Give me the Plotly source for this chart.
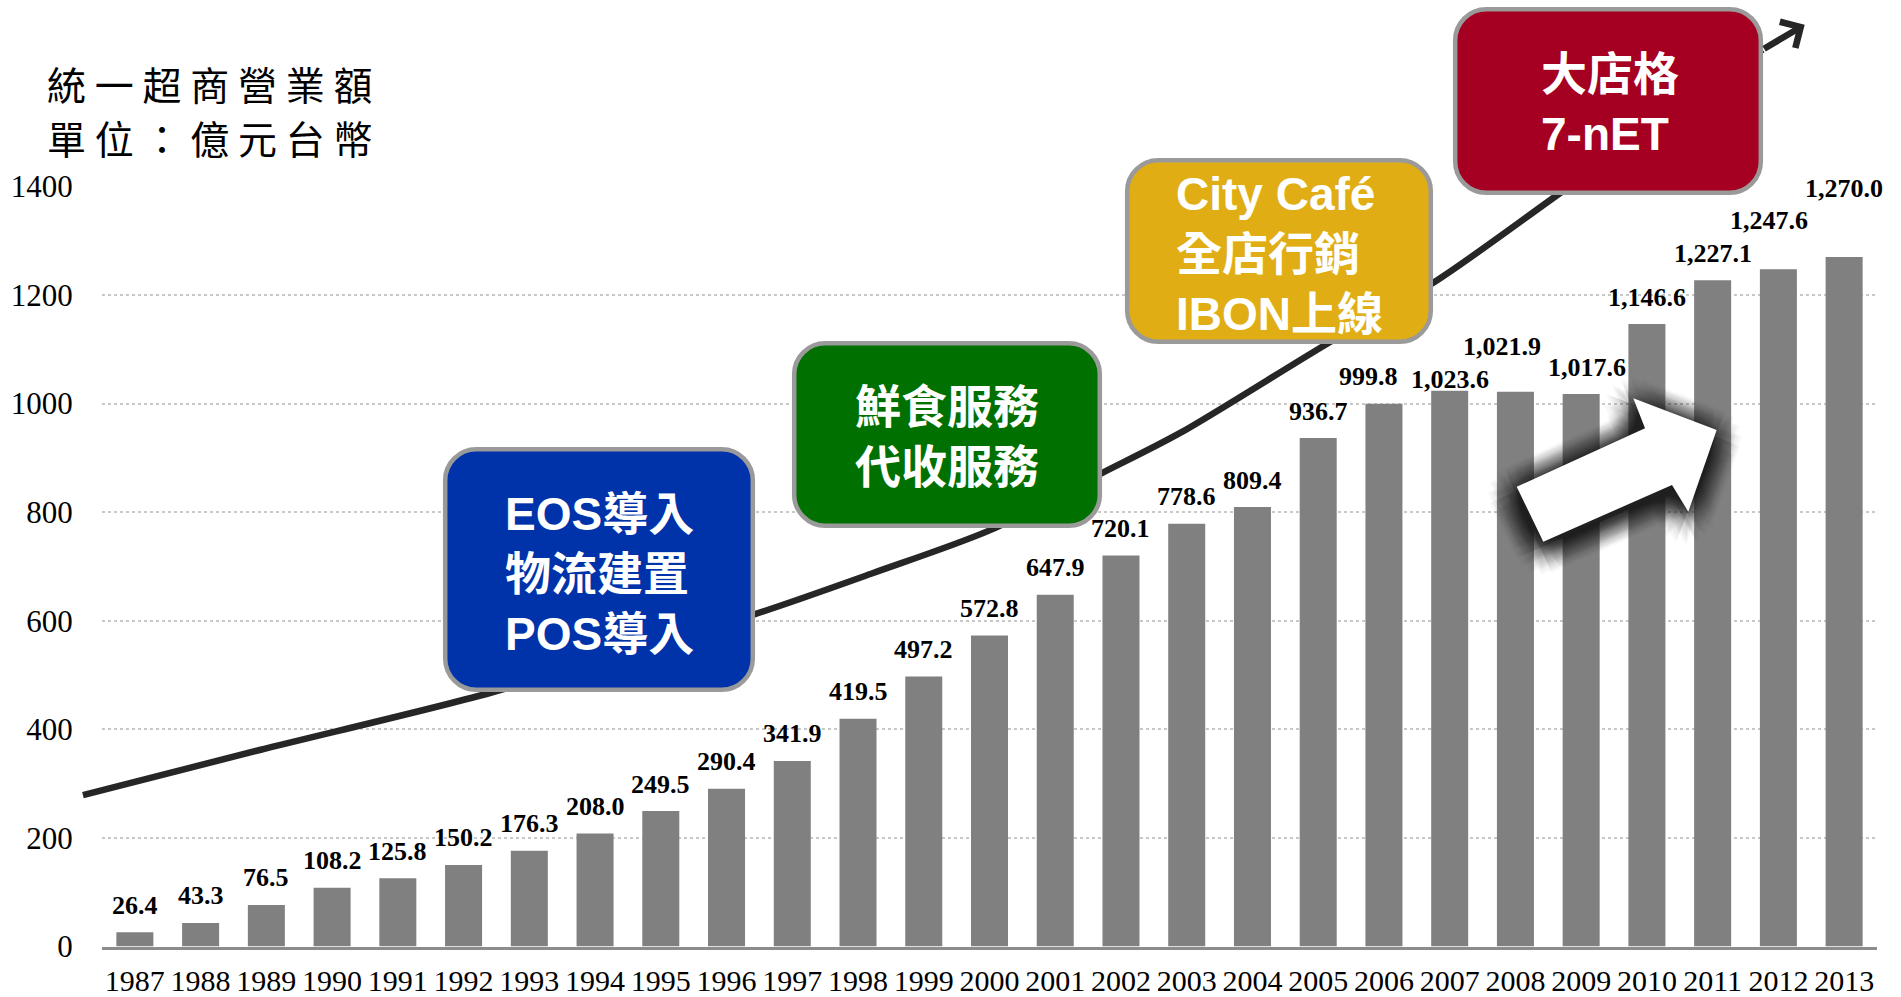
import math
import plotly.graph_objects as go

# ---------------- data ----------------
years = [str(y) for y in range(1987, 2014)]
revenue = [26.4, 43.3, 76.5, 108.2, 125.8, 150.2, 176.3, 208.0, 249.5, 290.4,
           341.9, 419.5, 497.2, 572.8, 647.9, 720.1, 778.6, 809.4, 936.7, 999.8,
           1023.6, 1021.9, 1017.6, 1146.6, 1227.1, 1247.6, 1270.0]
y_tick_values = [0, 200, 400, 600, 800, 1000, 1200, 1400]

# illustrative growth curve (in year / value units)
trend_year = [1986.21, 1988.90, 1992.40, 1996.40, 1998.23, 2000.01, 2001.71,
              2002.90, 2005.13, 2006.78, 2008.75, 2011.76, 2012.40]
trend_value = [279, 362, 467, 611, 688, 767, 872, 946, 1110, 1225, 1394, 1652, 1698]

title_line1 = "統 一 超 商 營 業 額"
title_line2 = "單 位 ： 億 元 台 幣"
box_texts = ["EOS導入<br>物流建置<br>POS導入",
             "鮮食服務<br>代收服務",
             "City Café<br>全店行銷<br>IBON上線",
             "大店格<br>7-nET"]

# ---------------- geometry / style (pixels) ----------------
W, H = 1901, 997
PL, PR, PT, PB = 102, 1877, 186.5, 946.5
YMAX = 1400

label_shift = {"2007": 11.5, "2008": 45, "2012": 49, "2013": 69}
label_xshift = {"2006": -15, "2008": -13, "2009": 6, "2012": -9}
DEFAULT_SHIFT = 27

boxes = [
    dict(x0=443, y0=447, x1=755, y1=692, fill="#0033AA", tx=599, ty=574),
    dict(x0=792, y0=341, x1=1102, y1=528, fill="#007000", tx=947, ty=437),
    dict(x0=1125, y0=158, x1=1433, y1=344, fill="#E0AE14", tx=1279, ty=254),
    dict(x0=1453, y0=7, x1=1763, y1=195, fill="#A50021", tx=1610, ty=104),
]
big_arrow = [(1516.7, 486.7), (1645, 428.3), (1633.3, 398.3), (1716.7, 430),
             (1688.3, 511.7), (1672, 485), (1543.3, 541.7)]


def X(px):
    return px / W


def Y(py):
    return 1 - py / H


def year_at(px):
    return 1986.5 + (px - PL) * 27 / (PR - PL)


def val_at(py):
    return (PB - py) * YMAX / (PB - PT)


def rrect(x0, y0, x1, y1, r):
    k = 0.45
    p = [f"M{X(x0 + r)},{Y(y0)}", f"L{X(x1 - r)},{Y(y0)}",
         f"C{X(x1 - r * k)},{Y(y0)} {X(x1)},{Y(y0 + r * k)} {X(x1)},{Y(y0 + r)}",
         f"L{X(x1)},{Y(y1 - r)}",
         f"C{X(x1)},{Y(y1 - r * k)} {X(x1 - r * k)},{Y(y1)} {X(x1 - r)},{Y(y1)}",
         f"L{X(x0 + r)},{Y(y1)}",
         f"C{X(x0 + r * k)},{Y(y1)} {X(x0)},{Y(y1 - r * k)} {X(x0)},{Y(y1 - r)}",
         f"L{X(x0)},{Y(y0 + r)}",
         f"C{X(x0)},{Y(y0 + r * k)} {X(x0 + r * k)},{Y(y0)} {X(x0 + r)},{Y(y0)}", "Z"]
    return " ".join(p)


def poly(pts, dx=0, dy=0):
    s = "M" + " L".join(f"{X(x + dx)},{Y(y + dy)}" for x, y in pts)
    return s + " Z"


fig = go.Figure()

fig.add_trace(go.Bar(
    x=years, y=revenue, marker=dict(color="#808080", line=dict(width=0)),
    xaxis="x", yaxis="y", hoverinfo="skip", showlegend=False))

fig.add_trace(go.Scatter(
    x=trend_year[:-1], y=trend_value[:-1], mode="lines",
    line=dict(color="#262626", width=6.5, shape="spline", smoothing=0.8),
    xaxis="x2", yaxis="y2", hoverinfo="skip", showlegend=False))

shapes = []
# blurred shadow of the white arrow
for r in (3, 6, 9, 12, 15, 18, 21, 24, 27):
    for k in range(16):
        a = 2 * math.pi * k / 16
        shapes.append(dict(type="path", xref="paper", yref="paper",
                           path=poly(big_arrow, r * math.cos(a) - 2, r * math.sin(a) + 6),
                           fillcolor="rgba(25,25,25,0.03)", line=dict(width=0), layer="above"))
shapes.append(dict(type="path", xref="paper", yref="paper", path=poly(big_arrow),
                   fillcolor="white", line=dict(width=0), layer="above"))

for b in boxes:
    shapes.append(dict(type="path", xref="paper", yref="paper",
                       path=rrect(b["x0"] + 2.2, b["y0"] + 2.2, b["x1"] - 2.2, b["y1"] - 2.2, 31),
                       fillcolor=b["fill"], line=dict(color="#9A9A9A", width=4.5), layer="above"))

annotations = []
for i, (yr, v) in enumerate(zip(years, revenue)):
    annotations.append(dict(
        x=i, y=v, xref="x", yref="y", text=f"{v:,.1f}", showarrow=False,
        yanchor="middle", xanchor="center",
        yshift=label_shift.get(yr, DEFAULT_SHIFT), xshift=label_xshift.get(yr, 0),
        font=dict(family="Liberation Serif", size=26, color="black", weight="bold")))

for txt, b in zip(box_texts, boxes):
    annotations.append(dict(
        x=X(b["tx"]), y=Y(b["ty"]), xref="paper", yref="paper", text=txt,
        showarrow=False, xanchor="center", yanchor="middle", align="left",
        font=dict(family="Liberation Sans, Noto Sans CJK TC", size=46,
                  color="white", weight="bold")))

for txt, cy in ((title_line1, 83), (title_line2, 137)):
    annotations.append(dict(
        x=X(45), y=Y(cy), xref="paper", yref="paper", text=txt, showarrow=False,
        xanchor="left", yanchor="middle",
        font=dict(family="Noto Sans CJK TC", size=39, color="black")))

# arrow head at the end of the growth curve
annotations.append(dict(
    x=trend_year[-1], y=trend_value[-1], ax=trend_year[-2], ay=trend_value[-2],
    xref="x2", yref="y2", axref="x2", ayref="y2", text="", showarrow=True,
    arrowhead=4, arrowsize=0.9, arrowwidth=6.5, arrowcolor="#262626"))

fig.update_layout(
    width=W, height=H, margin=dict(l=0, r=0, t=0, b=0),
    paper_bgcolor="white", plot_bgcolor="rgba(0,0,0,0)",
    bargap=0.437, showlegend=False,
    shapes=shapes, annotations=annotations,
    xaxis=dict(domain=[X(PL), X(PR)], type="category", anchor="y",
               range=[-0.5, len(years) - 0.5], autorange=False,
               showline=True, linecolor="#8C8C8C", linewidth=2.5,
               showgrid=False, zeroline=False, tickangle=0,
               ticks="outside", ticklen=6, tickcolor="rgba(0,0,0,0)",
               tickfont=dict(family="Liberation Serif", size=30, color="black"),
               automargin=False, fixedrange=True),
    yaxis=dict(domain=[Y(PB), Y(PT)], range=[0, YMAX], autorange=False, anchor="x",
               tickvals=y_tick_values, showgrid=True, gridcolor="#C8C8C8",
               griddash="dot", gridwidth=1.5, zeroline=False, showline=False,
               ticks="outside", ticklen=22, tickcolor="rgba(0,0,0,0)",
               tickfont=dict(family="Liberation Serif", size=31, color="black"),
               automargin=False, fixedrange=True),
    xaxis2=dict(domain=[0, 1], range=[year_at(0), year_at(W)], autorange=False,
                anchor="y2", visible=False, fixedrange=True),
    yaxis2=dict(domain=[0, 1], range=[val_at(H), val_at(0)], autorange=False,
                anchor="x2", visible=False, fixedrange=True),
)

fig.write_html("out.html", config={"displayModeBar": False},
               post_script="document.body.style.margin='0';document.body.style.overflow='hidden';")
